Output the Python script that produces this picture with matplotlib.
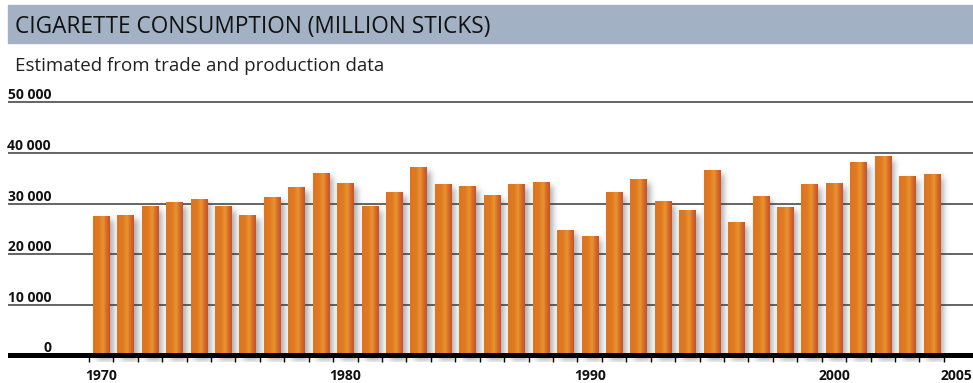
import numpy as np
import matplotlib
matplotlib.use("Agg")
import matplotlib.pyplot as plt
from matplotlib.colors import LinearSegmentedColormap
from matplotlib.patches import Rectangle
import matplotlib.transforms as mtransforms

# cigarette consumption, million sticks
years = list(range(1970, 2005))
consumption = [27400, 27600, 29300, 30100, 30700, 29300, 27600, 31100, 33100, 35900,
               33900, 29300, 32100, 37000, 33700, 33300, 31500, 33700, 34100, 24600,
               23400, 32100, 34700, 30300, 28500, 36500, 26200, 31300, 29200, 33700,
               33900, 38000, 39200, 35300, 35700]
ytick_vals = [0, 10000, 20000, 30000, 40000, 50000]
ytick_labels = ["0", "10 000", "20 000", "30 000", "40 000", "50 000"]
xlabel_years = [1970, 1980, 1990, 2000, 2005]

title = "CIGARETTE CONSUMPTION (MILLION STICKS)"
subtitle = "Estimated from trade and production data"

W, H = 973, 383
fig = plt.figure(figsize=(W / 100, H / 100), dpi=100)
fig.patch.set_facecolor("white")

# header band
fig.patches.append(Rectangle((8 / W, 1 - 43 / H), 965 / W, 38 / H,
                             transform=fig.transFigure, color="#A2B2C4", zorder=0))
fig.text(15 / W, 1 - 33 / H, title, family="Open Sans", fontsize=16.3,
         color="#111111", va="baseline")
fig.text(15 / W, 1 - 71 / H, subtitle, family="Open Sans", fontsize=13.5,
         color="#222222", va="baseline")

ax = fig.add_axes([8 / W, 1 - 362 / H, 965 / W, 272 / H])
xlim = (1966.19, 2005.69)
ylim = (-1285, 52470)
for s in ax.spines.values():
    s.set_visible(False)
ax.set_xticks([])
ax.set_yticks([])

bw = 0.67

# soft drop shadow behind the bars
gx, gy = 1930, 544
xs = np.linspace(xlim[0], xlim[1], gx)
ys = np.linspace(ylim[0], ylim[1], gy)
mask = np.zeros((gy, gx))
dx, dy = 0.16, -600
for yr, v in zip(years, consumption):
    cx = (xs >= yr - bw / 2 + dx) & (xs <= yr + bw / 2 + dx)
    cy = (ys >= -900) & (ys <= v + dy)
    mask[np.ix_(cy, cx)] = 1.0
sig = 6.0
k = np.arange(-20, 21)
kern = np.exp(-0.5 * (k / sig) ** 2)
kern /= kern.sum()
mask = np.apply_along_axis(lambda r: np.convolve(r, kern, mode="same"), 1, mask)
mask = np.apply_along_axis(lambda c: np.convolve(c, kern, mode="same"), 0, mask)
shadow = np.zeros((gy, gx, 4))
shadow[..., :3] = 0.45
shadow[..., 3] = mask * 0.6
ax.imshow(shadow, extent=(xlim[0], xlim[1], ylim[0], ylim[1]), origin="lower",
          aspect="auto", zorder=1, interpolation="bilinear")

# grid lines
ax.hlines(ytick_vals[1:], xlim[0], xlim[1], color="#3a3a3a", lw=1.1, zorder=2)

# bars with a horizontal colour gradient
bar_cmap = LinearSegmentedColormap.from_list(
    "bar", [(0.0, "#DD741F"), (0.35, "#E07A22"), (0.6, "#E8942E"),
            (0.8, "#D96C29"), (1.0, "#C4522F")])
grad = np.linspace(0, 1, 64).reshape(1, -1)
for yr, v in zip(years, consumption):
    ax.imshow(grad, extent=(yr - bw / 2, yr + bw / 2, 0, v), aspect="auto",
              cmap=bar_cmap, zorder=3, interpolation="bilinear")

# thick baseline and year ticks
ax.axhline(0, color="black", lw=3.6, zorder=4)
bounds = np.arange(years[0] - 0.5, years[-1] + 0.51, 1.0)
ax.vlines(bounds, ylim[0], -300, color="black", lw=1.0, zorder=4, clip_on=False)

ax.set_xlim(*xlim)
ax.set_ylim(*ylim)

trans = mtransforms.blended_transform_factory(ax.transAxes, ax.transData)
for v, lab in zip(ytick_vals, ytick_labels):
    ax.text(43 / 965, v + 600, lab, transform=trans, ha="right", va="baseline",
            family="Open Sans", fontweight="bold", fontsize=10, color="#111111")

for yr in xlabel_years:
    ax.text(yr, -4050, str(yr), ha="center", va="center", family="Open Sans",
            fontweight="bold", fontsize=10, color="#111111", clip_on=False)

fig.savefig("out.png", dpi=100)
